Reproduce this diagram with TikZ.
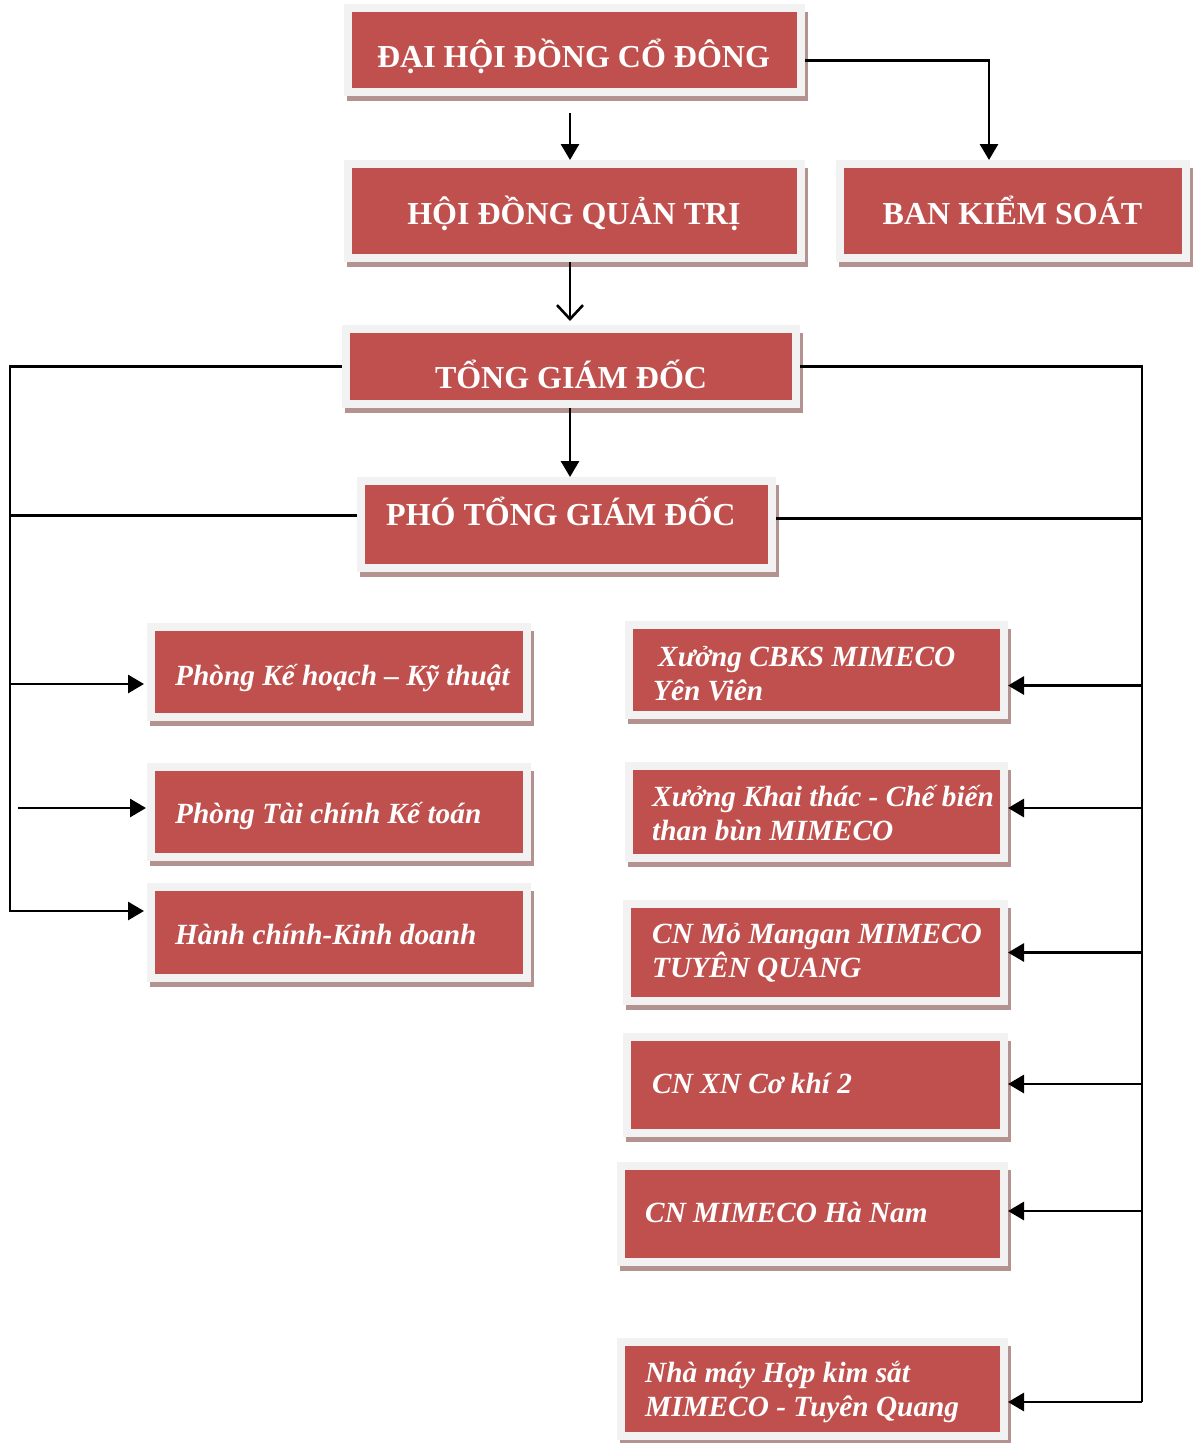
\documentclass[tikz,border=0pt]{standalone}
\usepackage{fontspec}
\setmainfont{Liberation Serif}
\usetikzlibrary{arrows.meta}
\definecolor{boxred}{HTML}{C0504D}
\definecolor{framegray}{HTML}{F2F2F2}
\definecolor{shadowc}{HTML}{B39290}
\tikzset{
  boxframe/.style={rectangle, fill=boxred, draw=framegray, line width=8pt, inner sep=0pt},
  headtext/.style={text=white, font=\fontsize{32}{34}\selectfont\bfseries, inner sep=0pt},
  unittext/.style={text=white, font=\fontsize{29.3}{34}\selectfont\bfseries\itshape, align=left, inner sep=0pt},
  conn/.style={line width=2.9pt, black},
  tri/.style={-{Triangle[length=16pt,width=18pt]}},
  barb/.style={-{Straight Barb[length=14pt,width=26pt,line width=2.6pt]}}
}
\newcommand\orgbox[5]{%
  \fill[shadowc] ({#2+3},{#3+8}) rectangle ({#4+3},{#5+5});
  \node[boxframe, minimum width={#4-#2-8}, minimum height={#5-#3-8}] (#1) at ({(#2+#4)/2},{(#3+#5)/2}) {};
}
\begin{document}
\begin{tikzpicture}[x=1pt,y=-1pt]
\useasboundingbox (0,0) rectangle (1194,1443);
% boxes
\orgbox{dh}{344}{4}{805}{96}
\orgbox{hdqt}{344}{160}{805}{262}
\orgbox{bks}{836}{160}{1190}{262}
\orgbox{tgd}{342}{325}{800}{408}
\orgbox{ptgd}{357}{477}{776}{572}
\orgbox{kh}{147}{623}{531}{721}
\orgbox{ptc}{147}{763}{531}{861}
\orgbox{hc}{147}{883}{531}{982}
\orgbox{cbks}{625}{621}{1008}{719}
\orgbox{kt}{625}{762}{1008}{862}
\orgbox{mo}{623}{900}{1008}{1005}
\orgbox{ck}{623}{1033}{1008}{1137}
\orgbox{hn}{617}{1162}{1008}{1266}
\orgbox{nm}{617}{1338}{1008}{1440}
% texts
\node[headtext, anchor=base] (dh-t) at (573.5,67) {ĐẠI HỘI ĐỒNG CỔ ĐÔNG};
\node[headtext, anchor=base] (hdqt-t) at (574,224) {HỘI ĐỒNG QUẢN TRỊ};
\node[headtext, anchor=base] (bks-t) at (1012.5,224) {BAN KIỂM SOÁT};
\node[headtext, anchor=base] (tgd-t) at (571,388) {TỔNG GIÁM ĐỐC};
\node[headtext, anchor=base west] (ptgd-t) at (386,525) {PHÓ TỔNG GIÁM ĐỐC};
\node[unittext, anchor=base west] (kh-t) at (175,685) {Phòng Kế hoạch – Kỹ thuật};
\node[unittext, anchor=base west] (ptc-t) at (175,823) {Phòng Tài chính Kế toán};
\node[unittext, anchor=base west] (hc-t) at (175,944) {Hành chính-Kinh doanh};
\node[unittext, anchor=base west] (cbks-t) at (653,700) {\hspace*{5pt}Xưởng CBKS MIMECO\\Yên Viên};
\node[unittext, anchor=base west] (kt-t) at (652,840) {Xưởng Khai thác - Chế biến\\than bùn MIMECO};
\node[unittext, anchor=base west] (mo-t) at (652,977) {CN Mỏ Mangan MIMECO\\TUYÊN QUANG};
\node[unittext, anchor=base west] (ck-t) at (652,1093) {CN XN Cơ khí 2};
\node[unittext, anchor=base west] (hn-t) at (645,1222) {CN MIMECO Hà Nam};
\node[unittext, anchor=base west] (nm-t) at (645,1416) {Nhà máy Hợp kim sắt\\MIMECO - Tuyên Quang};
% helper coordinates
\coordinate (c570) at (570,0);
\coordinate (c989) at (989,0);
\coordinate (lbus) at (10,912);
\coordinate (rbus) at (1142,1402);
% top connectors
\draw[conn,tri] ([yshift=-10.5pt]dh.east) -| (bks.north -| c989);
\draw[conn,tri] (dh.south -| c570) ++(0,17) -- (hdqt.north -| c570);
\draw[conn,barb] (hdqt.south -| c570) -- ([yshift=4pt]tgd.north -| c570);
\draw[conn,tri] (tgd.south -| c570) -- (ptgd.north -| c570);
% left bus
\draw[conn] (tgd.west) -| (lbus);
\draw[conn] ([yshift=9pt]ptgd.west) -- ([yshift=9pt]ptgd.west -| lbus);
\draw[conn,tri,shorten >=3pt] ([yshift=-12pt]kh.west -| lbus) -- ([yshift=-12pt]kh.west);
\draw[conn,tri,shorten >=1pt] ([yshift=4pt]ptc.west -| lbus) ++(8,0) -- ([yshift=4pt]ptc.west);
\draw[conn,tri,shorten >=3pt] ([yshift=21.5pt]hc.west -| lbus) -- ([yshift=21.5pt]hc.west);
% right bus
\draw[conn] (tgd.east) -| (rbus);
\draw[conn] ([yshift=6pt]ptgd.east) -- ([yshift=6pt]ptgd.east -| rbus);
\draw[conn,tri] ([yshift=-15.5pt]cbks.east -| rbus) -- ([yshift=-15.5pt]cbks.east);
\draw[conn,tri] ([yshift=4pt]kt.east -| rbus) -- ([yshift=4pt]kt.east);
\draw[conn,tri] (mo.east -| rbus) -- (mo.east);
\draw[conn,tri] ([yshift=1pt]ck.east -| rbus) -- ([yshift=1pt]ck.east);
\draw[conn,tri] ([yshift=3pt]hn.east -| rbus) -- ([yshift=3pt]hn.east);
\draw[conn,tri] (rbus) -- (rbus -| nm.east);
\end{tikzpicture}
\end{document}
